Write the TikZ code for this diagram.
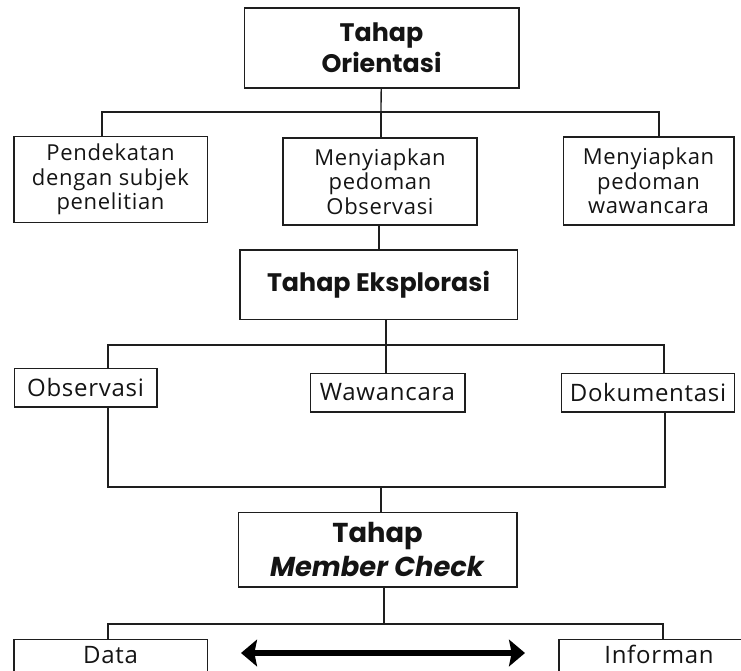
\documentclass[tikz,border=0pt]{standalone}
\usepackage{fontspec}
\setmainfont[LetterSpace=3]{Open Sans}
\newfontfamily\titlefont{Poppins}
\usetikzlibrary{arrows.meta}

\definecolor{inkline}{RGB}{30,30,30}
\definecolor{inktext}{RGB}{20,20,20}

\tikzset{every picture/.style={line width=0.75pt}}
\tikzset{
  box/.style={draw=inkline, line width=1pt, inner sep=0pt, align=center, text=inktext},
  titlebox/.style={box, font=\titlefont\bfseries},
  textbox/.style={box, font=\fontsize{16.5}{18.5}\selectfont},
  smallbox/.style={box, font=\fontsize{18}{20}\selectfont},
  link/.style={draw=inkline, line width=1pt},
  bigarrow/.style={draw=black, line width=4.5pt, {Stealth[length=12pt,width=20pt,inset=2pt]}-{Stealth[length=12pt,width=20pt,inset=2pt]}}
}

\begin{document}
\begin{tikzpicture}[x=0.75pt,y=0.75pt,yscale=-1,xscale=1]
\useasboundingbox (0,0) rectangle (741,670);

% tahap orientasi
\node [titlebox, minimum width=206pt, minimum height=60pt, font=\titlefont\bfseries\fontsize{19}{23}\selectfont] (ori) at (381.5,48) {Tahap\\Orientasi};
\node [textbox, minimum width=145pt, minimum height=64pt] (pend) at (110.5,179.5) {Pendekatan\\dengan subjek\\penelitian};
\node [textbox, minimum width=145.5pt, minimum height=65pt] (obsg) at (380,181.5) {Menyiapkan\\pedoman\\Observasi};
\node [textbox, minimum width=128pt, minimum height=66pt] (wwg) at (648.5,181) {Menyiapkan\\pedoman\\wawancara};

\coordinate (j1) at (381,112);
\draw [link] (ori) -- (j1);
\draw [link] (pend.north -| 102,0) |- (j1) -| (wwg.north -| 659,0);
\draw [link] (j1) -- (obsg.north -| j1);

% tahap eksplorasi
\node [titlebox, minimum width=208pt, minimum height=52pt, font=\titlefont\bfseries\fontsize{19}{22}\selectfont] (eks) at (378.5,284.5) {Tahap Eksplorasi};
\draw [link] (obsg.south -| 379,0) -- (eks.north -| 379,0);

\node [smallbox, minimum width=107pt, minimum height=29pt] (obs) at (85.5,387.5) {Observasi};
\node [smallbox, minimum width=116pt, minimum height=29pt] (waw) at (387.5,392.5) {Wawancara};
\node [smallbox, minimum width=130pt, minimum height=29pt] (dok) at (648,392.5) {Dokumentasi};

\coordinate (j2) at (386,345);
\draw [link] (eks.south -| j2) -- (j2);
\draw [link] (obs.north -| 108,0) |- (j2) -| (dok.north -| 664,0);
\draw [link] (j2) -- (waw.north -| j2);

\coordinate (j3) at (381,487);
\draw [link] (obs.south -| 108,0) |- (j3) -| (dok.south -| 665,0);

% tahap member check
\node [titlebox, minimum width=209pt, minimum height=56pt, font=\titlefont\bfseries\fontsize{20.5}{25}\selectfont] (mc) at (377.5,549.5) {Tahap\\\textit{Member Check}};
\draw [link] (j3) -- (mc.north -| j3);

\coordinate (j4) at (384,624);
\draw [link] (mc.south -| j4) -- (j4);
\node [smallbox, anchor=north, minimum width=145pt, inner ysep=6pt, text height=12pt, text depth=30pt] (data) at (110.5,639) {Data};
\node [smallbox, anchor=north, minimum width=150pt, inner ysep=6pt, text height=12pt, text depth=30pt] (inf) at (659,639) {Informan};
\draw [link] (data.north -| 108,0) |- (j4) -| (inf.north -| 663,0);

\coordinate (al) at (241,653);
\coordinate (ar) at (525,653);
\draw [bigarrow] (al) -- (ar);

\end{tikzpicture}
\end{document}
